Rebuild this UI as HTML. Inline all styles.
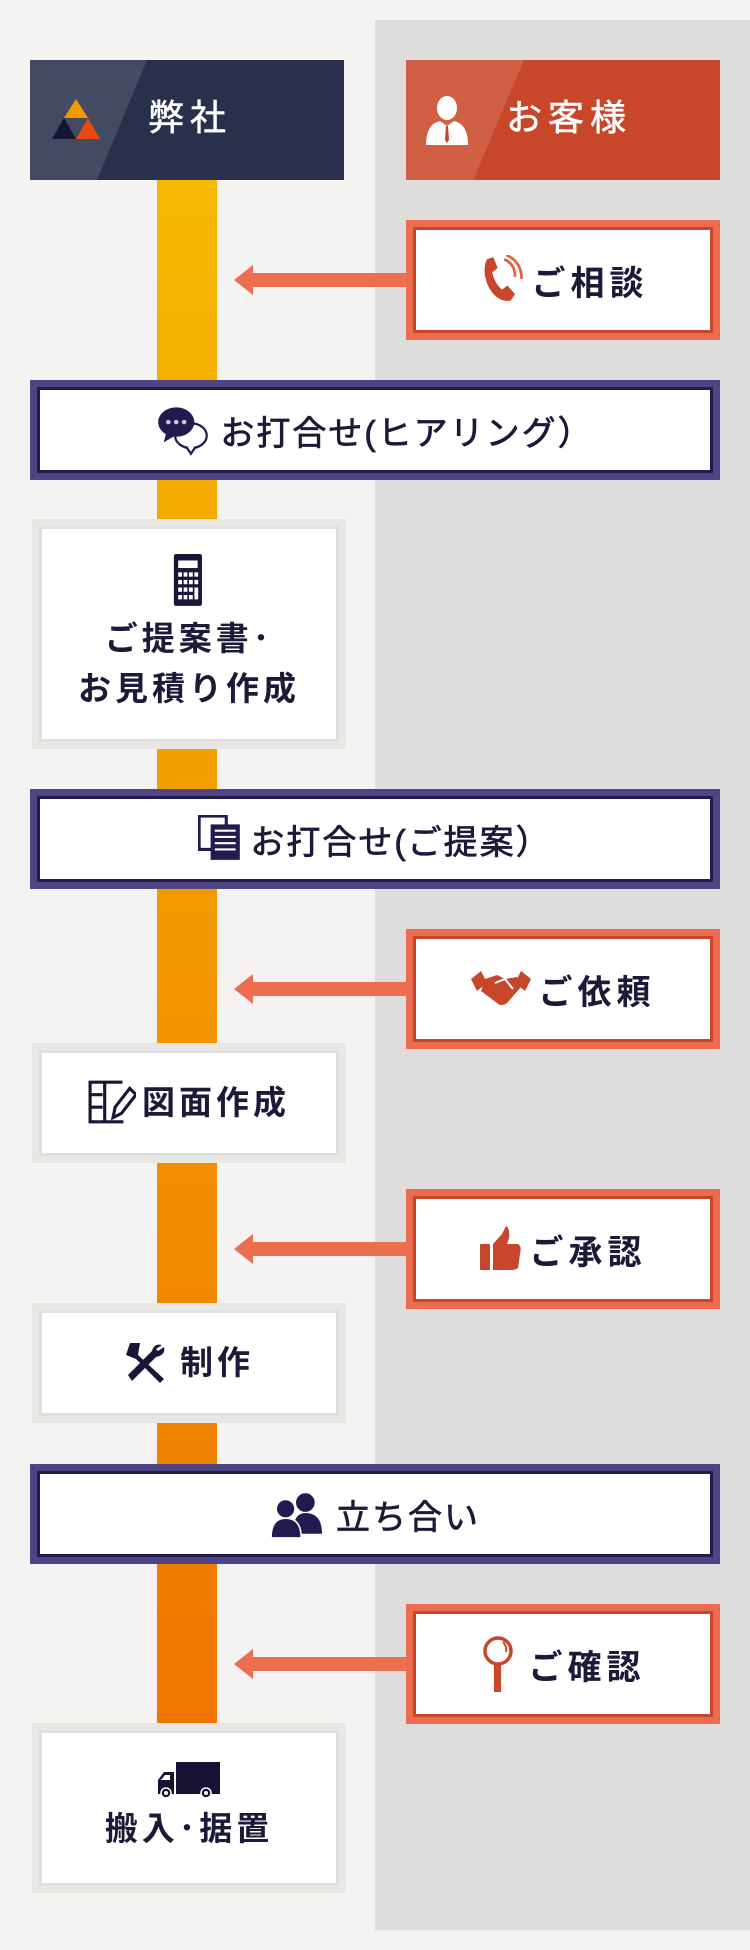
<!DOCTYPE html>
<html><head><meta charset="utf-8"><style>
*{margin:0;padding:0;box-sizing:border-box}
body{width:750px;height:1950px;background:#f4f3f1;position:relative;overflow:hidden;font-family:"Liberation Sans","Noto Sans CJK JP",sans-serif;color:#1b1a38}
.a{position:absolute}
.gp{left:375px;top:20px;width:375px;height:1910px;background:#dedddb}
.bar{left:157px;width:60px;top:180px;height:1545px;background:linear-gradient(#f6b900,#f07600)}
.hd{top:60px;height:120px;width:314px;overflow:hidden;color:#fff;font-size:36px;letter-spacing:6px;-webkit-text-stroke:0.6px #fff}
.hd .t{position:absolute;top:36px;line-height:44px}
.box{background:#e8e7e4;padding:7px}
.box .in{width:100%;height:100%;background:#fff;border:3px solid #dfdee0;display:flex;flex-direction:column;align-items:center;justify-content:center;font-size:33px;font-weight:bold;letter-spacing:4px;line-height:50px}
.mt{left:30px;width:690px;height:100px;background:#4f4585;padding:7px}
.mt .in{width:100%;height:100%;background:#fff;border:3px solid #221c4a;display:flex;align-items:center;justify-content:center;font-size:34px;letter-spacing:2px;-webkit-text-stroke:0.7px #1b1a38}
.cu{left:406px;width:314px;height:120px;background:#ec6c50;padding:7px}
.cu .in{width:100%;height:100%;background:#fff;border:3px solid #c8472a;display:flex;align-items:center;justify-content:center;font-size:34px;font-weight:bold;letter-spacing:5px}
.ar{left:234px;width:172px;height:30px}
svg{flex:none}
</style></head><body>
<div class="a gp"></div>
<div class="a bar"></div>

<div class="a hd" style="left:30px;background:#28304b">
<svg class="a" style="left:0;top:0" width="314" height="120"><polygon points="0,0 117,0 67,120 0,120" fill="#434b63"/>
<polygon points="22,79 34,58 46,79" fill="#111634"/><polygon points="46,79 58,58 70,79" fill="#e8490f"/><polygon points="34,58 46,39 58,58" fill="#f39800"/></svg>
<div class="t" style="left:118px">弊社</div></div>

<div class="a hd" style="left:406px;background:#c8472a">
<svg class="a" style="left:0;top:0" width="314" height="120"><polygon points="0,0 118,0 67,120 0,120" fill="#d05f43"/>
<ellipse cx="41" cy="48" rx="10" ry="12" fill="#fff"/><path d="M20,85 Q20,64 34,61 L41,66 L48,61 Q62,64 62,85 Z" fill="#fff"/><path d="M40,66 L42,66 L43,80 L41,83 L39,80 Z" fill="#c8472a"/></svg>
<div class="t" style="left:100px">お客様</div></div>

<svg class="a ar" style="top:265px"><rect x="18" y="8" width="154" height="14" fill="#ec6d50"/><polygon points="0,15 19,0 19,30" fill="#ec6d50"/></svg>
<div class="a cu" style="top:220px"><div class="in"><svg width="48" height="50" viewBox="0 0 44 46"><path d="M8,4 L14,2 L18,12 L13,16 Q15,26 22,32 L27,28 L34,36 L30,42 Q18,44 10,30 Q3,16 8,4Z" fill="#c8472a"/><path d="M24,4 Q34,8 34,20" stroke="#e6603e" stroke-width="2.5" fill="none"/><path d="M26,0 Q40,6 40,22" stroke="#e6603e" stroke-width="2.5" fill="none"/></svg><span style="margin-left:6px">ご相談</span></div></div>

<div class="a mt" style="top:380px"><div class="in"><svg width="54" height="52" viewBox="0 0 46 46"><ellipse cx="30" cy="28" rx="14" ry="11" fill="#fff" stroke="#221c4a" stroke-width="2"/><path d="M26,38 L30,44 L34,38" fill="#fff" stroke="#221c4a" stroke-width="2"/><ellipse cx="17" cy="16" rx="16" ry="13" fill="#231b4f"/><path d="M8,26 L6,34 L16,28Z" fill="#231b4f"/><circle cx="10" cy="16" r="2" fill="#ccc"/><circle cx="17" cy="16" r="2" fill="#ccc"/><circle cx="24" cy="16" r="2" fill="#ccc"/></svg><span style="margin-left:10px">お打合せ(ヒアリング）</span></div></div>

<div class="a box" style="left:32px;top:519px;width:314px;height:230px"><div class="in">
<svg width="32" height="54" viewBox="0 0 28 50" style="margin-bottom:6px"><rect x="0" y="0" width="26" height="48" rx="2" fill="#1b1538"/><rect x="4" y="6" width="18" height="7" fill="#fff"/><g fill="#fff"><rect x="4" y="17" width="3.5" height="4"/><rect x="9" y="17" width="3.5" height="4"/><rect x="14" y="17" width="3.5" height="4"/><rect x="19" y="17" width="3.5" height="4"/><rect x="4" y="24" width="3.5" height="4"/><rect x="9" y="24" width="3.5" height="4"/><rect x="14" y="24" width="3.5" height="4"/><rect x="19" y="24" width="3.5" height="4"/><rect x="4" y="31" width="3.5" height="4"/><rect x="9" y="31" width="3.5" height="4"/><rect x="14" y="31" width="3.5" height="4"/><rect x="19" y="31" width="3.5" height="11"/><rect x="4" y="38" width="3.5" height="4"/><rect x="9" y="38" width="3.5" height="4"/><rect x="14" y="38" width="3.5" height="4"/></g></svg>
<div>ご提案書･</div><div>お見積り作成</div></div></div>

<div class="a mt" style="top:789px"><div class="in"><svg width="44" height="48" viewBox="0 0 42 46"><rect x="1" y="1" width="26" height="32" fill="#fff" stroke="#231b4f" stroke-width="3"/><rect x="12" y="9" width="28" height="34" fill="#231b4f"/><g stroke="#fff" stroke-width="2"><line x1="16" y1="15" x2="36" y2="15"/><line x1="16" y1="21" x2="36" y2="21"/><line x1="16" y1="27" x2="36" y2="27"/><line x1="16" y1="33" x2="36" y2="33"/></g></svg><span style="margin-left:8px">お打合せ(ご提案）</span></div></div>

<svg class="a ar" style="top:974px"><rect x="18" y="8" width="154" height="14" fill="#ec6d50"/><polygon points="0,15 19,0 19,30" fill="#ec6d50"/></svg>
<div class="a cu" style="top:929px"><div class="in"><svg width="60" height="40" viewBox="0 0 60 40"><polygon points="0,10 10,2 16,14 6,22" fill="#c8472a"/><polygon points="60,10 50,2 44,14 54,22" fill="#c8472a"/><path d="M14,10 L26,6 L34,10 L46,8 L50,18 L36,34 Q30,38 26,34 L10,22Z" fill="#c8472a"/><path d="M24,14 L34,10 L42,20" stroke="#fff" stroke-width="2" fill="none"/></svg><span style="margin-left:8px">ご依頼</span></div></div>

<div class="a box" style="left:32px;top:1043px;width:314px;height:120px"><div class="in" style="flex-direction:row"><svg width="48" height="46" viewBox="0 0 46 44"><path d="M33,2 L2,2 L2,40 L34,40 M2,14 L14,14 M2,26 L14,26 M16,2 L16,40" stroke="#1b1538" stroke-width="3" fill="none"/><path d="M24,36 L26,26 L40,8 L46,14 L32,32 Z" fill="#fff" stroke="#1b1538" stroke-width="3"/></svg><span style="margin-left:6px">図面作成</span></div></div>

<svg class="a ar" style="top:1234px"><rect x="18" y="8" width="154" height="14" fill="#ec6d50"/><polygon points="0,15 19,0 19,30" fill="#ec6d50"/></svg>
<div class="a cu" style="top:1189px"><div class="in"><svg width="42" height="46" viewBox="0 0 42 46"><rect x="0" y="18" width="10" height="26" fill="#c8472a"/><path d="M13,18 L22,8 L26,0 Q30,2 29,12 L27,18 L38,18 Q42,20 40,28 L38,42 Q36,44 30,44 L13,44Z" fill="#c8472a"/></svg><span style="margin-left:8px">ご承認</span></div></div>

<div class="a box" style="left:32px;top:1303px;width:314px;height:120px"><div class="in" style="flex-direction:row"><svg width="44" height="44" viewBox="0 0 44 44"><path d="M6,2 L16,2 L14,14 L40,38 L36,42 L12,18 L2,14Z" fill="#1b1538"/><path d="M38,4 Q30,2 28,10 L4,34 L8,40 L32,16 Q42,14 40,6 L34,10 L32,8Z" fill="#1b1538"/></svg><span style="margin-left:12px">制作</span></div></div>

<div class="a mt" style="top:1464px"><div class="in"><svg width="52" height="48" viewBox="0 0 50 46"><circle cx="34" cy="12" r="9" fill="#231b4f"/><path d="M22,42 Q22,22 34,22 Q50,22 50,42Z" fill="#231b4f"/><circle cx="15" cy="18" r="9" fill="#231b4f" stroke="#fff" stroke-width="1.5"/><path d="M1,46 Q1,27 15,27 Q30,27 30,46Z" fill="#231b4f" stroke="#fff" stroke-width="1.5"/></svg><span style="margin-left:14px">立ち合い</span></div></div>

<svg class="a ar" style="top:1649px"><rect x="18" y="8" width="154" height="14" fill="#ec6d50"/><polygon points="0,15 19,0 19,30" fill="#ec6d50"/></svg>
<div class="a cu" style="top:1604px"><div class="in"><svg width="34" height="56" viewBox="0 0 34 56"><circle cx="17" cy="15" r="13" fill="#fff" stroke="#c8472a" stroke-width="3.5"/><path d="M22,6 Q26,10 25,16" stroke="#c8472a" stroke-width="2" fill="none"/><rect x="13" y="28" width="7" height="28" fill="#c8472a"/></svg><span style="margin-left:14px">ご確認</span></div></div>

<div class="a box" style="left:32px;top:1723px;width:314px;height:170px"><div class="in">
<svg width="62" height="38" viewBox="0 0 62 38" style="margin-bottom:4px"><rect x="18" y="0" width="44" height="32" fill="#161233"/><path d="M0,32 L0,18 L6,10 L16,10 L16,32Z" fill="#161233"/><path d="M3,18 L7,13 L12,13 L12,18Z" fill="#fff"/><circle cx="8" cy="31" r="5" fill="#161233" stroke="#fff" stroke-width="1.5"/><circle cx="48" cy="31" r="5" fill="#161233" stroke="#fff" stroke-width="1.5"/><circle cx="8" cy="31" r="2" fill="#fff"/><circle cx="48" cy="31" r="2" fill="#fff"/></svg>
<div>搬入･据置</div></div></div>
</body></html>
